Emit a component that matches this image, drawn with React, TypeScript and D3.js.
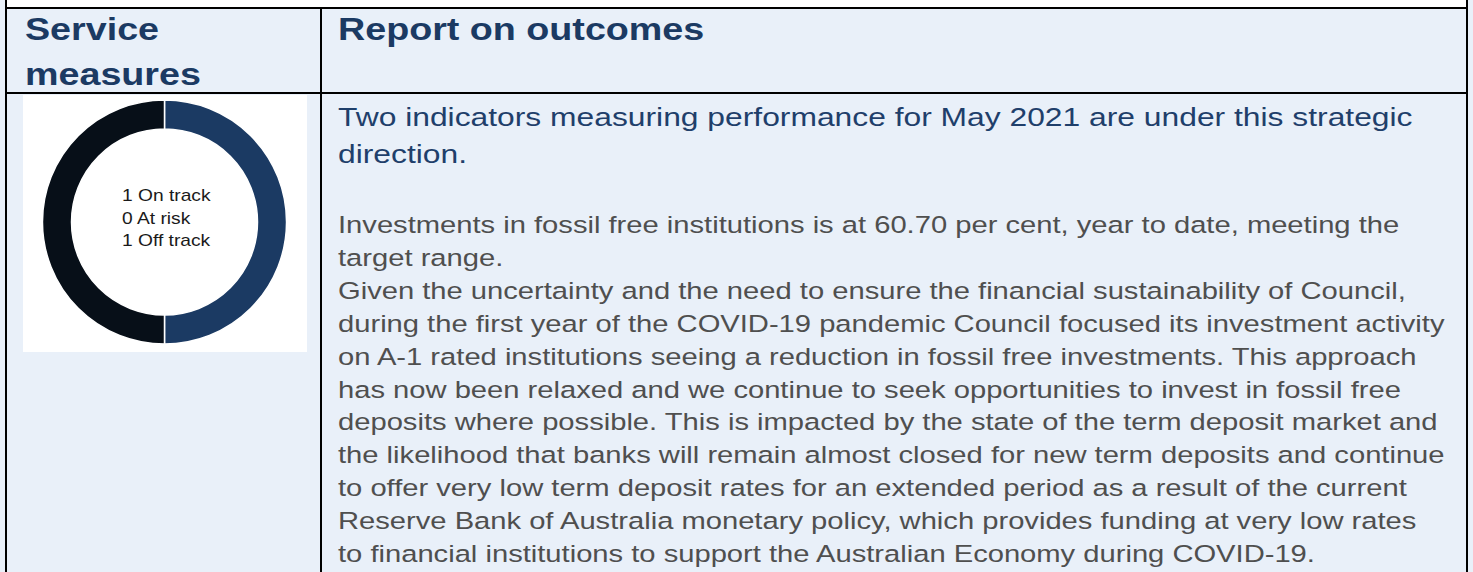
import { useMemo } from 'react'
import * as d3 from 'd3'

// status counts shown in the donut
const statusLabels = ['On track', 'At risk', 'Off track']
const statusCounts = [1, 0, 1]
const statusColors = ['#1b3a63', '#000000', '#070f18']

const headerLeft = ['Service', 'measures']
const headerRight = 'Report on outcomes'

const introLines = ['Two indicators measuring performance for May 2021 are under this strategic', 'direction.']

const bodyLines = [
  'Investments in fossil free institutions is at 60.70 per cent, year to date, meeting the',
  'target range.',
  'Given the uncertainty and the need to ensure the financial sustainability of Council,',
  'during the first year of the COVID-19 pandemic Council focused its investment activity',
  'on A-1 rated institutions seeing a reduction in fossil free investments. This approach',
  'has now been relaxed and we continue to seek opportunities to invest in fossil free',
  'deposits where possible. This is impacted by the state of the term deposit market and',
  'the likelihood that banks will remain almost closed for new term deposits and continue',
  'to offer very low term deposit rates for an extended period as a result of the current',
  'Reserve Bank of Australia monetary policy, which provides funding at very low rates',
  'to financial institutions to support the Australian Economy during COVID-19.',
]

const W = 1473
const H = 572
const FONT = '"Liberation Sans", Arial, sans-serif'
const STRETCH = 1.2
const BG = '#e9f0f9'
const NAVY = '#1b3a63'

function Donut({ cx, cy }: { cx: number; cy: number }) {
  const arcs = useMemo(() => {
    const pie = d3.pie<number>().sort(null).value((d) => d)
    return pie(statusCounts)
  }, [])
  const arc = d3.arc<d3.PieArcDatum<number>>().innerRadius(93).outerRadius(122)
  const lineY = d3.scaleLinear().domain([0, 1]).range([201, 223.5])

  return (
    <g transform={`translate(${cx},${cy})`}>
      {arcs.map((a, i) =>
        a.value > 0 ? <path key={i} d={arc(a) || ''} fill={statusColors[i]} stroke="#ffffff" strokeWidth={1.5} /> : null
      )}
      {statusLabels.map((label, i) => (
        <g key={label} transform={`translate(${122 - cx},${lineY(i) - cy}) scale(${STRETCH},1)`}>
          <text x={0} y={0} fontFamily={FONT} fontSize={16} fill="#1a1a1a">
            {`${statusCounts[i]} ${label}`}
          </text>
        </g>
      ))}
    </g>
  )
}

export default function App() {
  const greyY = d3.scaleLinear().domain([0, 1]).range([233, 265.9])
  const blueY = d3.scaleLinear().domain([0, 1]).range([126, 163])
  const headY = d3.scaleLinear().domain([0, 1]).range([40, 85])

  return (
    <svg width={W} height={H} style={{ position: 'absolute', left: 0, top: 0, display: 'block' }}>
      <rect x={0} y={0} width={W} height={H} fill={BG} />
      <rect x={7} y={0} width={1459} height={8} fill="#ffffff" />

      {/* donut card */}
      <rect x={23} y={95} width={284} height={257} fill="#ffffff" />
      <Donut cx={164.5} cy={222} />

      {/* header */}
      {headerLeft.map((t, i) => (
        <g key={t} transform={`translate(25,${headY(i)}) scale(${STRETCH},1)`}>
          <text fontFamily={FONT} fontWeight="bold" fontSize={31.4} fill={NAVY}>{t}</text>
        </g>
      ))}
      <g transform={`translate(338,${headY(0)}) scale(${STRETCH},1)`}>
        <text fontFamily={FONT} fontWeight="bold" fontSize={31.4} fill={NAVY}>{headerRight}</text>
      </g>

      {introLines.map((t, i) => (
        <g key={t} transform={`translate(338,${blueY(i)}) scale(${STRETCH},1)`}>
          <text fontFamily={FONT} fontSize={26.5} fill="#1f3f6b">{t}</text>
        </g>
      ))}

      {bodyLines.map((t, i) => (
        <g key={i} transform={`translate(338,${greyY(i)}) scale(${STRETCH},1)`}>
          <text fontFamily={FONT} fontSize={24.3} fill="#4f4f4f">{t}</text>
        </g>
      ))}

      {/* table rules */}
      <g fill="#000000">
        <rect x={5} y={0} width={2} height={H} />
        <rect x={5} y={7} width={1463} height={2} />
        <rect x={5} y={92} width={1463} height={2} />
        <rect x={320} y={8} width={2} height={H} />
        <rect x={1466} y={0} width={2} height={H} />
      </g>
    </svg>
  )
}
